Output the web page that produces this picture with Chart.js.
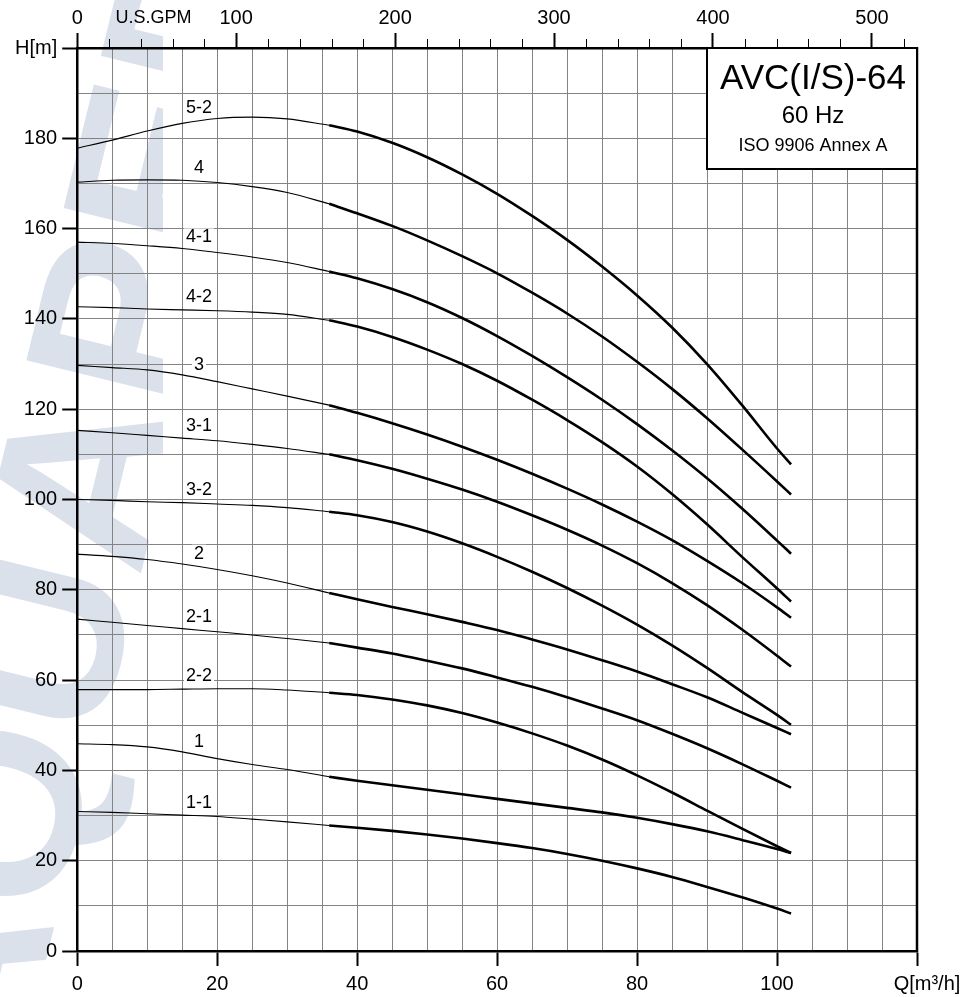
<!DOCTYPE html>
<html>
<head>
<meta charset="utf-8">
<title>AVC(I/S)-64 60 Hz</title>
<script src="https://cdn.jsdelivr.net/npm/chart.js@4.4.1/dist/chart.umd.min.js"></script>
<style>
	html, body { margin: 0; padding: 0; background: #fff; }
	canvas { display: block; }
</style>
</head>
<body>
<canvas id="pumpChart" width="964" height="997"></canvas>
<script>
// flow points in m3/h, curves are thin up to 36 and bold after
const qPoints = [0, 5, 10, 15, 20, 25, 30, 36, 40, 45, 50, 55, 60, 65, 70, 75, 80, 85, 90, 95, 100, 102];
const thickFrom = 36;
const labelQ = 17.4;

const curveNames = ['5-2', '4', '4-1', '4-2', '3', '3-1', '3-2', '2', '2-1', '2-2', '1', '1-1'];

// head H[m] for each curve at qPoints
const h52 = [177.8, 179.6, 181.6, 183.3, 184.4, 184.7, 184.3, 182.9, 181.5, 179.0, 175.8, 172.0, 167.7, 162.8, 157.5, 151.6, 145.2, 138.1, 130.0, 120.9, 111.3, 107.8];
const h4 = [170.3, 170.7, 170.8, 170.7, 170.2, 169.3, 168.0, 165.5, 163.4, 160.6, 157.4, 153.9, 150.1, 145.8, 141.2, 136.1, 130.5, 124.5, 118.0, 111.1, 104.0, 101.1];
const h41 = [157.0, 156.7, 156.2, 155.6, 154.7, 153.7, 152.5, 150.5, 149.0, 146.6, 143.7, 140.2, 136.2, 131.8, 127.1, 122.1, 116.7, 110.9, 104.7, 98.0, 90.9, 88.0];
const h42 = [142.7, 142.5, 142.2, 142.0, 141.8, 141.5, 141.0, 139.7, 138.3, 136.0, 133.2, 130.0, 126.3, 122.1, 117.6, 112.7, 107.3, 101.2, 94.5, 87.3, 80.3, 77.4];
const h3 = [129.7, 129.2, 128.7, 127.6, 126.1, 124.5, 122.9, 120.9, 119.2, 116.9, 114.4, 111.7, 108.8, 105.7, 102.4, 98.9, 95.1, 91.0, 86.4, 81.5, 76.1, 73.8];
const h31 = [115.3, 114.8, 114.2, 113.6, 113.0, 112.2, 111.3, 110.0, 108.7, 106.8, 104.6, 102.2, 99.5, 96.5, 93.3, 89.8, 85.9, 81.5, 76.6, 71.2, 65.4, 63.0];
const h32 = [100.0, 99.8, 99.5, 99.3, 99.0, 98.7, 98.2, 97.3, 96.5, 95.0, 92.9, 90.3, 87.3, 84.0, 80.4, 76.5, 72.3, 67.7, 62.7, 57.4, 52.3, 50.1];
const h2 = [87.9, 87.4, 86.7, 85.7, 84.5, 83.1, 81.5, 79.3, 77.9, 76.2, 74.6, 72.9, 71.1, 69.0, 66.8, 64.4, 61.9, 59.1, 56.2, 52.8, 49.4, 48.0];
const h21 = [73.5, 72.8, 72.1, 71.4, 70.7, 70.0, 69.2, 68.2, 67.2, 65.9, 64.3, 62.6, 60.6, 58.5, 56.2, 53.7, 51.1, 48.1, 44.9, 41.4, 37.7, 36.2];
const h22 = [57.9, 57.9, 57.9, 58.0, 58.1, 58.1, 57.8, 57.2, 56.7, 55.7, 54.4, 52.7, 50.6, 48.2, 45.5, 42.4, 38.9, 35.1, 31.1, 27.1, 23.2, 21.7];
const h1 = [45.9, 45.7, 45.2, 44.1, 42.6, 41.3, 40.2, 38.6, 37.7, 36.7, 35.7, 34.7, 33.7, 32.7, 31.7, 30.7, 29.5, 28.1, 26.5, 24.6, 22.6, 21.7];
const h11 = [30.9, 30.7, 30.4, 30.1, 29.8, 29.2, 28.6, 27.8, 27.3, 26.6, 25.8, 24.9, 23.9, 22.8, 21.5, 20.0, 18.3, 16.4, 14.2, 11.9, 9.4, 8.3];
const curveHeads = [h52, h4, h41, h42, h3, h31, h32, h2, h21, h22, h1, h11];

// axes
const qMax = 120;
const hMax = 200;
const gpmPerM3h = 4.4029;
const titleLines = ['AVC(I/S)-64', '60 Hz', 'ISO 9906 Annex A'];

const fontFamily = '"Liberation Sans", Arial, Helvetica, sans-serif';
Chart.defaults.font.family = fontFamily;
Chart.defaults.color = '#000';

// linear interpolation on the read points, used only to place the curve names
function headAt(h, q) {
	for (let i = 1; i < qPoints.length; i++) {
		if (q <= qPoints[i]) {
			const t = (q - qPoints[i - 1]) / (qPoints[i] - qPoints[i - 1]);
			return h[i - 1] + t * (h[i] - h[i - 1]);
		}
	}
	return h[h.length - 1];
}

const datasets = [];
curveNames.forEach(function (name, k) {
	const pts = qPoints.map((q, i) => ({ x: q, y: curveHeads[k][i] }));
	datasets.push({
		label: name + ' (thin)',
		data: pts.filter(p => p.x <= thickFrom),
		borderColor: '#000',
		borderWidth: 1.1,
		pointRadius: 0,
		cubicInterpolationMode: 'monotone',
		fill: false
	});
	datasets.push({
		label: name,
		data: pts.filter(p => p.x >= thickFrom),
		borderColor: '#000',
		borderWidth: 2.6,
		pointRadius: 0,
		cubicInterpolationMode: 'monotone',
		fill: false
	});
});

const extras = {
	id: 'extras',
	beforeDraw(chart) {
		// faint watermark on the left
		const ctx = chart.ctx;
		ctx.save();
		ctx.beginPath();
		ctx.rect(0, 0, 163, chart.height);
		ctx.clip();
		ctx.fillStyle = '#dbe1eb';
		ctx.translate(92, 500);
		ctx.rotate(-Math.PI / 2 + 0.24);
		ctx.font = 'bold 235px ' + fontFamily;
		ctx.textAlign = 'center';
		ctx.textBaseline = 'middle';
		ctx.fillText('AQUAPED', 0, 0);
		ctx.restore();
	},
	afterDatasetsDraw(chart) {
		const ctx = chart.ctx;
		const area = chart.chartArea;
		const xs = chart.scales.x;
		const ys = chart.scales.y;
		const top = chart.scales.x2;

		// right frame line
		ctx.save();
		ctx.strokeStyle = '#000';
		ctx.lineWidth = 2.5;
		ctx.beginPath();
		ctx.moveTo(area.right, area.top - 1);
		ctx.lineTo(area.right, area.bottom + 1);
		ctx.stroke();

		// minor ticks on the GPM axis
		ctx.lineWidth = 1;
		for (let g = 20; g <= top.max; g += 20) {
			if (g % 100 === 0) continue;
			const px = Math.round(top.getPixelForValue(g)) + 0.5;
			ctx.beginPath();
			ctx.moveTo(px, area.top);
			ctx.lineTo(px, area.top - 9);
			ctx.stroke();
		}
		ctx.fillStyle = '#000';
		ctx.font = '18px ' + fontFamily;
		ctx.textAlign = 'center';
		ctx.textBaseline = 'middle';
		ctx.fillText('U.S.GPM', top.getPixelForValue(48), 18);

		// unit of the flow axis, next to its last tick
		ctx.font = '20px ' + fontFamily;
		ctx.fillText('Q[m\u00b3/h]', xs.getPixelForValue(qMax) + 10, area.bottom + 33);

		// curve names
		ctx.font = '18px ' + fontFamily;
		curveNames.forEach(function (name, k) {
			const px = xs.getPixelForValue(labelQ);
			const py = ys.getPixelForValue(headAt(curveHeads[k], labelQ)) - 13;
			const w = ctx.measureText(name).width;
			ctx.fillStyle = '#fff';
			ctx.fillRect(px - w / 2 - 2, py - 9, w + 4, 17);
			ctx.fillStyle = '#000';
			ctx.fillText(name, px, py);
		});

		// title box
		const bw = 210, bh = 121;
		const bx = area.right - bw, by = area.top;
		ctx.fillStyle = '#fff';
		ctx.fillRect(bx, by, bw, bh);
		ctx.lineWidth = 2;
		ctx.strokeRect(bx, by, bw, bh);
		ctx.fillStyle = '#000';
		const cx = bx + bw / 2 + 1;
		ctx.font = '35px ' + fontFamily;
		ctx.fillText(titleLines[0], cx, by + 31);
		ctx.font = '24px ' + fontFamily;
		ctx.fillText(titleLines[1], cx, by + 68);
		ctx.font = '18px ' + fontFamily;
		ctx.fillText(titleLines[2], cx, by + 98);
		ctx.restore();
	}
};

const ctx = document.getElementById('pumpChart');
const myChart = new Chart(ctx, {
	type: 'line',
	data: { datasets: datasets },
	options: {
		responsive: false,
		animation: false,
		devicePixelRatio: 1,
		layout: { padding: { left: 10, right: 47, top: 3, bottom: -5 } },
		plugins: {
			legend: { display: false },
			tooltip: { enabled: false }
		},
		scales: {
			x: {
				type: 'linear',
				position: 'bottom',
				min: 0,
				max: qMax,
				border: { display: true, color: '#000', width: 2.5 },
				grid: {
					color: '#838383',
					lineWidth: 1,
					tickLength: 15,
					tickWidth: 2,
					tickColor: c => (c.tick && c.tick.value % 20 === 0) ? '#000' : 'rgba(0,0,0,0)'
				},
				ticks: {
					stepSize: 5,
					autoSkip: false,
					maxRotation: 0,
					padding: 6,
					font: { size: 20 },
					callback: v => (v % 20 !== 0 || v === qMax) ? '' : String(v)
				}
			},
			x2: {
				type: 'linear',
				position: 'top',
				min: 0,
				max: qMax * gpmPerM3h,
				border: { display: true, color: '#000', width: 2.5 },
				grid: {
					drawOnChartArea: false,
					tickLength: 15,
					tickWidth: 2,
					tickColor: c => (c.tick && c.tick.value % 100 === 0) ? '#000' : 'rgba(0,0,0,0)'
				},
				ticks: {
					stepSize: 20,
					autoSkip: false,
					maxRotation: 0,
					padding: 3,
					font: { size: 20 },
					callback: v => v % 100 === 0 ? String(v) : ''
				}
			},
			y: {
				type: 'linear',
				min: 0,
				max: hMax,
				border: { display: true, color: '#000', width: 2.5 },
				grid: {
					color: '#838383',
					lineWidth: 1,
					tickLength: 15,
					tickWidth: 2,
					tickColor: c => (c.tick && c.tick.value % 20 === 0) ? '#000' : 'rgba(0,0,0,0)'
				},
				ticks: {
					stepSize: 10,
					autoSkip: false,
					padding: 5,
					font: { size: 20 },
					callback: v => v % 20 !== 0 ? '' : (v === hMax ? 'H[m]' : String(v))
				}
			}
		}
	},
	plugins: [extras]
});
</script>
</body>
</html>
